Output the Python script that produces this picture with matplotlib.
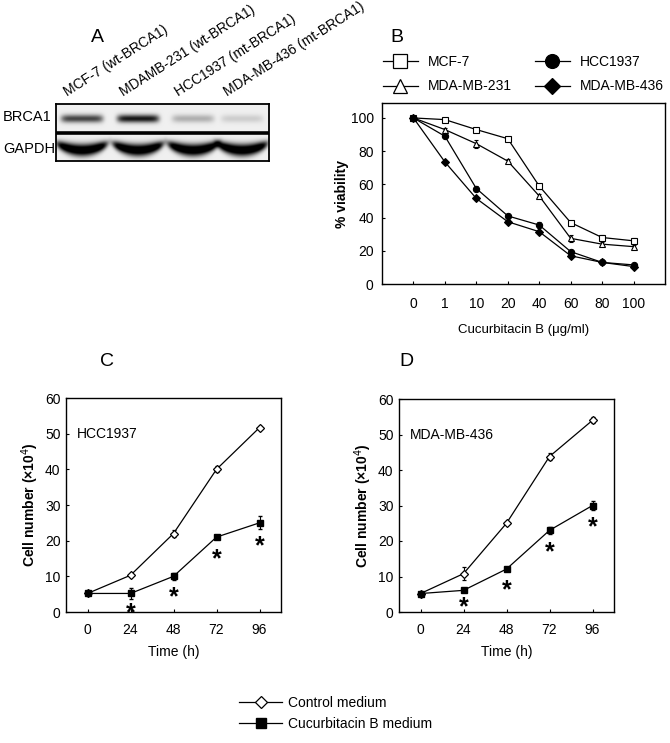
import numpy as np
import matplotlib
matplotlib.use('Agg')
import matplotlib.pyplot as plt
from matplotlib.lines import Line2D
import matplotlib.transforms as mtransforms

plt.rcParams['font.family'] = ['Liberation Sans', 'DejaVu Sans']
plt.rcParams['font.size'] = 10
plt.rcParams['axes.linewidth'] = 1.0

# panel A - western blot
lanes = ['MCF-7 (wt-BRCA1)', 'MDAMB-231 (wt-BRCA1)', 'HCC1937 (mt-BRCA1)', 'MDA-MB-436 (mt-BRCA1)']
brca1_level = [0.75, 0.95, 0.28, 0.15]
gapdh_level = [1.0, 1.0, 1.0, 1.0]

# panel B - viability
doses = ['0', '1', '10', '20', '40', '60', '80', '100']
mcf7 = [100, 99, 93, 87.5, 59, 37, 28, 26]
mcf7_err = [0, 0.5, 1, 0.5, 1.5, 1, 1.5, 1.5]
mda231 = [100, 93, 84.5, 74, 53, 27.5, 24, 22.5]
mda231_err = [0, 1, 2.5, 1, 1, 2, 1, 1]
hcc1937 = [100, 89, 57.5, 41, 35.5, 19.5, 13, 11.5]
hcc1937_err = [0, 1, 1.5, 1, 2, 1, 1, 1]
mda436 = [100, 73.5, 51.5, 37.5, 31.5, 17, 13, 10.5]
mda436_err = [0, 0.5, 1, 0.5, 1, 1, 1, 1]

# panels C / D - growth curves
hours = [0, 24, 48, 72, 96]
c_ctrl = [5.2, 10.3, 22, 40, 51.7]
c_ctrl_err = [0, 0.3, 1, 0.8, 0.5]
c_cuc = [5.2, 5.2, 10, 21, 25]
c_cuc_err = [0.3, 1.5, 1, 0.5, 1.8]
c_star = [1.2, 5.8, 16.4, 20]
d_ctrl = [5.2, 10.8, 25, 43.8, 54]
d_ctrl_err = [0, 1.8, 0.3, 1, 0.8]
d_cuc = [5.2, 6.1, 12.1, 23, 30]
d_cuc_err = [0.3, 0.5, 0.5, 1, 1.3]
d_star = [2.8, 7.8, 18.3, 25.4]

W, H = 670, 743
fig = plt.figure(figsize=(W / 100, H / 100), dpi=100)


def rect(l, t, r, b):
    return [l / W, 1 - b / H, (r - l) / W, (b - t) / H]


def ftext(x, y, s, **kw):
    fig.text(x / W, 1 - y / H, s, **kw)


# ---------- A ----------
axa = fig.add_axes(rect(56, 104, 269, 161))
bw, bh = 213, 57
yy, xx = np.mgrid[0:bh * 4, 0:bw * 4] / 4.0
img = np.full(xx.shape, 0.06)
centers = [26, 82, 137, 186]
for cx, b, g in zip(centers, brca1_level, gapdh_level):
    dx = (xx - cx) / 21.0
    img += b * 0.9 * np.exp(-dx ** 8) * np.exp(-((yy - 14.5) / 4.0) ** 2)
    dx2 = (xx - cx) / 25.5
    cy = 46.0 - 6.5 * dx2 ** 2
    img += g * 1.2 * np.exp(-dx2 ** 8) * np.exp(-((yy - cy) / (4.0 + 2.0 * (1 - dx2 ** 2).clip(0))) ** 2)
img = img.clip(0, 1)
axa.imshow(img, cmap='gray_r', vmin=0, vmax=1, extent=[0, bw, bh, 0], aspect='auto', interpolation='bilinear')
axa.axhline(28.5, color='black', lw=2.6)
axa.set_xlim(0, bw)
axa.set_ylim(bh, 0)
axa.set_xticks([])
axa.set_yticks([])
for s in axa.spines.values():
    s.set_linewidth(1.3)
ftext(3, 117, 'BRCA1', fontsize=10.5, va='center')
ftext(3, 149, 'GAPDH', fontsize=10.5, va='center')
for cx, name in zip(centers, lanes):
    ftext(56 + cx - 13, 99, name, fontsize=10, rotation=32.5, rotation_mode='anchor', ha='left', va='bottom')
ftext(97, 38, 'A', fontsize=14, ha='center', va='center')

# ---------- B ----------
axb = fig.add_axes(rect(382, 103, 665, 284))
xpos = np.arange(len(doses))
series = [(mcf7, mcf7_err, 's', 'white', 'MCF-7'),
          (mda231, mda231_err, '^', 'white', 'MDA-MB-231'),
          (hcc1937, hcc1937_err, 'o', 'black', 'HCC1937'),
          (mda436, mda436_err, 'D', 'black', 'MDA-MB-436')]
handles = []
for vals, err, m, fc, lab in series:
    axb.errorbar(xpos, vals, yerr=err, color='black', lw=0.9, capsize=1.5, elinewidth=0.8,
                 marker=m, ms=4.5 if m != 'D' else 3.8, mfc=fc, mec='black', mew=0.8)
    handles.append(Line2D([], [], color='black', lw=0.9, marker=m, ms=10 if m != 'D' else 8,
                          mfc=fc, mec='black', mew=0.9, label=lab))
axb.set_xlim(-1, 8)
axb.set_ylim(0, 109)
axb.set_xticks(xpos)
axb.set_xticklabels(doses)
axb.set_yticks([0, 20, 40, 60, 80, 100])
axb.tick_params(direction='in', length=2.5, width=0.8, labelsize=10)
axb.tick_params(axis='x', pad=9)
axb.tick_params(axis='y', pad=6)
axb.set_ylabel('% viability', fontweight='bold', fontsize=10, labelpad=1)
axb.set_xlabel('Cucurbitacin B (\u03bcg/ml)', fontsize=9.5, labelpad=10)
fig.legend(handles=handles, ncol=2, loc='upper left', bbox_to_anchor=(383 / W, 1 - 55 / H),
           frameon=False, fontsize=10, handlelength=2.5, handletextpad=0.7, columnspacing=1.7,
           labelspacing=0.75, borderpad=0, borderaxespad=0)
ftext(397, 37, 'B', fontsize=14, ha='center', va='center')


# ---------- C / D ----------
def growth(ax, ctrl, ctrl_err, cuc, cuc_err, stars, name):
    ax.errorbar(hours, ctrl, yerr=ctrl_err, color='black', lw=0.9, capsize=1.5, elinewidth=0.8,
                marker='D', ms=4, mfc='white', mec='black', mew=0.9)
    ax.errorbar(hours, cuc, yerr=cuc_err, color='black', lw=0.9, capsize=1.5, elinewidth=0.8,
                marker='s', ms=5, mfc='black', mec='black')
    shift = ax.transData + mtransforms.ScaledTranslation(0, -4 / 72, fig.dpi_scale_trans)
    for h, s in zip(hours[1:], stars):
        ax.text(h, s, '*', fontsize=18, fontweight='bold', ha='center', va='center', transform=shift)
    ax.set_xlim(-12, 108)
    ax.set_ylim(0, 60)
    ax.set_xticks(hours)
    ax.set_yticks([0, 10, 20, 30, 40, 50, 60])
    ax.tick_params(direction='in', length=2.5, width=0.8, labelsize=10)
    ax.tick_params(axis='x', pad=8)
    ax.tick_params(axis='y', pad=4)
    ax.set_ylabel('Cell number (\u00d710$^4$)', fontweight='bold', fontsize=10, labelpad=3)
    ax.set_xlabel('Time (h)', fontsize=10, labelpad=6)
    ax.text(0.05, 0.83, name, transform=ax.transAxes, fontsize=10, ha='left', va='center')


axc = fig.add_axes(rect(66, 398, 281, 612))
growth(axc, c_ctrl, c_ctrl_err, c_cuc, c_cuc_err, c_star, 'HCC1937')
ftext(107, 362, 'C', fontsize=14, ha='center', va='center')

axd = fig.add_axes(rect(399, 399, 614, 612))
growth(axd, d_ctrl, d_ctrl_err, d_cuc, d_cuc_err, d_star, 'MDA-MB-436')
ftext(406, 362, 'D', fontsize=14, ha='center', va='center')

leg_handles = [Line2D([], [], color='black', lw=0.9, marker='D', ms=6, mfc='white', mec='black', mew=0.9,
                      label='Control medium'),
               Line2D([], [], color='black', lw=0.9, marker='s', ms=7, mfc='black', mec='black',
                      label='Cucurbitacin B medium')]
fig.legend(handles=leg_handles, loc='upper left', bbox_to_anchor=(239 / W, 1 - 696 / H), frameon=False,
           fontsize=10, handlelength=3.1, handletextpad=0.45, labelspacing=0.5, borderpad=0, borderaxespad=0)

fig.savefig('out.png', dpi=100)
